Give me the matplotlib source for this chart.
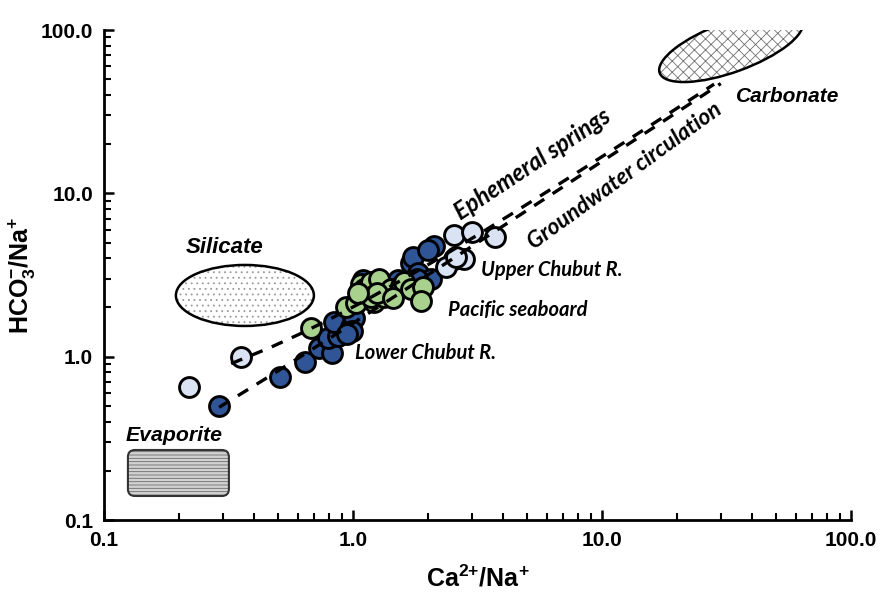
import numpy as np
import matplotlib
matplotlib.use("Agg")
import matplotlib.pyplot as plt
from matplotlib.patches import Ellipse, FancyBboxPatch
from matplotlib import transforms
from matplotlib.ticker import LogLocator, FuncFormatter, NullFormatter

# ---------------- data ----------------
# light blue samples (Upper Chubut R. / ephemeral springs)
upper_x = [0.22, 0.355, 2.36, 2.79, 2.60, 2.55, 3.01, 3.72]
upper_y = [0.65, 1.00, 3.52, 3.94, 4.05, 5.52, 5.77, 5.37]

# dark blue samples (Lower Chubut R.)
lower_x = [0.29, 0.51, 0.64, 0.73, 0.82, 0.795, 0.87, 0.84, 0.98, 1.01, 0.99,
           0.95, 1.10, 1.71, 1.74, 1.82, 2.06, 2.11, 2.00, 1.80, 1.52]
lower_y = [0.50, 0.75, 0.93, 1.13, 1.06, 1.31, 1.33, 1.62, 1.51, 1.73, 1.43,
           1.38, 2.95, 3.77, 4.06, 3.27, 2.97, 4.73, 4.53, 3.00, 2.95]

# green samples (Pacific seaboard)
pacific_x = [0.678, 0.94, 1.03, 1.08, 1.11, 1.18, 1.27, 1.21, 1.18, 1.33,
             1.42, 1.56, 1.60, 1.71, 1.91, 1.88, 2.55, 1.25, 1.45, 1.05]
pacific_y = [1.49, 2.00, 2.14, 2.79, 2.58, 2.85, 3.00, 2.16, 2.33, 2.33,
             2.58, 2.69, 2.88, 2.58, 2.66, 2.18, 3.94, 2.45, 2.30, 2.45]

# mixing lines: start and end members (x, y)
ephemeral_x = [0.324, 28.2]
ephemeral_y = [0.906, 46.6]
groundwater_x = [0.29, 30.0]
groundwater_y = [0.49, 47.0]

x_ticks = [0.1, 1.0, 10.0, 100.0]
y_ticks = [0.1, 1.0, 10.0, 100.0]

# ---------------- style ----------------
plt.rcParams["font.family"] = ["Liberation Sans", "DejaVu Sans"]
plt.rcParams["mathtext.default"] = "regular"
plt.rcParams["hatch.linewidth"] = 0.6

c_light = "#dae3f3"
c_dark = "#2f5597"
c_green = "#a9d18e"

fig = plt.figure(figsize=(8.81, 5.92), dpi=100)
ax = fig.add_axes([104 / 881, 72 / 592, 747 / 881, 490 / 592])
ax.set_xscale("log")
ax.set_yscale("log")
ax.set_xlim(0.1, 100)
ax.set_ylim(0.1, 100)

for s in ["top", "right"]:
    ax.spines[s].set_visible(False)
for s in ["left", "bottom"]:
    ax.spines[s].set_linewidth(2.0)

for axis in (ax.xaxis, ax.yaxis):
    axis.set_major_locator(LogLocator(base=10))
    axis.set_minor_locator(LogLocator(base=10, subs=np.arange(2, 10)))
    axis.set_minor_formatter(NullFormatter())
    axis.set_major_formatter(FuncFormatter(lambda v, p: f"{v:.1f}"))
ax.set_xticks(x_ticks)
ax.set_yticks(y_ticks)
ax.tick_params(which="major", direction="in", length=7, width=1.8,
               labelsize=15, pad=8)
ax.tick_params(which="minor", direction="in", length=5, width=1.5)
for lab in ax.get_xticklabels() + ax.get_yticklabels():
    lab.set_fontweight("bold")

ax.set_xlabel(r"Ca$^{2{+}}$/Na$^{+}$", fontsize=18, fontweight="bold", labelpad=11)
ax.set_ylabel(r"HCO$_3^{-}$/Na$^{+}$", fontsize=18, fontweight="bold", labelpad=2)


def anchored(cx, cy):
    """inch-based transform centred on a data point"""
    return fig.dpi_scale_trans + transforms.ScaledTranslation(cx, cy, ax.transData)


# Silicate ellipse
tr = anchored(0.368, 2.37)
ax.add_patch(Ellipse((0, 0), 1.38, 0.61, transform=tr, facecolor="white",
                     edgecolor="#9a9a9a", hatch="...", linewidth=0, zorder=1))
ax.add_patch(Ellipse((0, 0), 1.38, 0.61, transform=tr, fill=False,
                     edgecolor="black", linewidth=1.8, zorder=1.1))

# Carbonate ellipse
tr = anchored(33.0, 78.7)
ax.add_patch(Ellipse((0, 0), 1.52, 0.50, angle=20, transform=tr, facecolor="white",
                     edgecolor="#707070", hatch="xxx", linewidth=0, zorder=1))
ax.add_patch(Ellipse((0, 0), 1.52, 0.50, angle=20, transform=tr, fill=False,
                     edgecolor="black", linewidth=1.8, zorder=1.1))

# Evaporite box
tr = anchored(0.199, 0.194)
w, h = 1.01, 0.46
ax.add_patch(FancyBboxPatch((-w / 2, -h / 2), w, h,
                            boxstyle="round,pad=0,rounding_size=0.07",
                            transform=tr, facecolor="#d2d2d2", edgecolor="#6a6a6a",
                            hatch="-----", linewidth=0, zorder=1))
ax.add_patch(FancyBboxPatch((-w / 2, -h / 2), w, h,
                            boxstyle="round,pad=0,rounding_size=0.07",
                            transform=tr, fill=False, edgecolor="#333333",
                            linewidth=1.5, zorder=1.1))

# samples
ms = 205
lw = 2.1
ax.scatter(lower_x, lower_y, s=ms, c=c_dark, edgecolors="black", linewidths=lw, zorder=3)
ax.scatter(pacific_x, pacific_y, s=ms, c=c_green, edgecolors="black", linewidths=lw, zorder=4)
ax.scatter(upper_x, upper_y, s=ms, c=c_light, edgecolors="black", linewidths=lw, zorder=5)

# mixing lines (straight lines between end-members in ratio space)
f = np.linspace(0, 1, 200)
for lx, ly in [(ephemeral_x, ephemeral_y), (groundwater_x, groundwater_y)]:
    xs = lx[0] + f * (lx[1] - lx[0])
    ys = ly[0] + f * (ly[1] - ly[0])
    ax.plot(xs, ys, color="black", linewidth=2.4, linestyle=(0, (3.6, 3.0)),
            dash_capstyle="butt", zorder=6)

# labels
bi = dict(fontweight="bold", fontstyle="italic", ha="center", va="center",
          family=["Liberation Sans", "DejaVu Sans"], zorder=7)
ax.text(0.306, 4.63, "Silicate", fontsize=16, **bi)
ax.text(0.191, 0.331, "Evaporite", fontsize=15.3, **bi)
ax.text(55.5, 38.9, "Carbonate", fontsize=15, **bi)

ci = dict(fontweight="bold", fontstyle="italic", ha="center", va="center",
          family=["Lato", "DejaVu Sans"], zorder=7, rotation_mode="anchor")
ax.text(5.26, 15.1, "Ephemeral springs", fontsize=17, rotation=33.5, **ci)
ax.text(12.4, 12.8, "Groundwater circulation", fontsize=16.3, rotation=36, **ci)
ax.text(6.27, 3.40, "Upper Chubut R.", fontsize=14.5, **ci)
ax.text(4.58, 1.93, "Pacific seaboard", fontsize=14.5, **ci)
ax.text(1.96, 1.05, "Lower Chubut R.", fontsize=14.5, **ci)

fig.savefig("out.png", dpi=100)
